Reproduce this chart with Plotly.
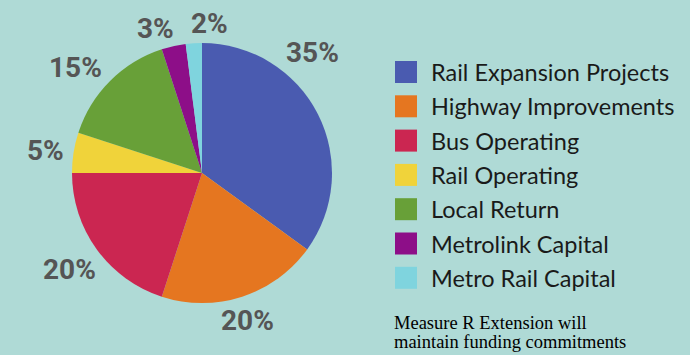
import plotly.graph_objects as go

categories = ["Rail Expansion Projects", "Highway Improvements", "Bus Operating",
              "Rail Operating", "Local Return", "Metrolink Capital", "Metro Rail Capital"]
values = [35, 20, 20, 5, 15, 3, 2]
colors = ["#4a5bb0", "#e57620", "#cb2651", "#f0d33a", "#68a038", "#8d0e88", "#7fd4de"]
# label centre positions in pixels (x, y from top)
label_pos = [(312, 52), (247, 320), (69, 269), (45, 150), (75, 68), (155, 28), (209, 23)]
note_lines = ["Measure R Extension will", "maintain funding commitments"]

W, H = 690, 355
BG = "#afdad6"

def px(x):
    return x / W

def py(y):
    return 1 - y / H

cx, cy, r = 202, 173, 130

fig = go.Figure(go.Pie(
    labels=categories, values=values, sort=False, direction="clockwise", rotation=0,
    marker=dict(colors=colors, line=dict(width=0)),
    textinfo="none", hoverinfo="label+percent", showlegend=False,
    domain=dict(x=[px(cx - r), px(cx + r)], y=[py(cy + r), py(cy - r)]),
))

annotations = []
for v, (lx, ly) in zip(values, label_pos):
    annotations.append(dict(
        x=px(lx), y=py(ly), xref="paper", yref="paper", text=f"{v}%", showarrow=False,
        xanchor="center", yanchor="middle",
        font=dict(family="Roboto", size=28, color="#555555", weight="bold"),
    ))

shapes = []
sq_x0, sq_size, row0, step = 395, 22, 72, 34.3
for i, (c, col) in enumerate(zip(categories, colors)):
    yc = row0 + i * step
    shapes.append(dict(type="rect", xref="paper", yref="paper",
                       x0=px(sq_x0), x1=px(sq_x0 + sq_size),
                       y0=py(yc + sq_size / 2), y1=py(yc - sq_size / 2),
                       fillcolor=col, line=dict(width=0)))
    annotations.append(dict(
        x=px(429), y=py(yc), xref="paper", yref="paper", text=c, showarrow=False,
        xanchor="left", yanchor="middle",
        font=dict(family="Lato", size=23.5, color="#1a1a1a"),
    ))

for i, line in enumerate(note_lines):
    annotations.append(dict(
        x=px(392), y=py(323 + i * 19), xref="paper", yref="paper", text=line, showarrow=False,
        xanchor="left", yanchor="middle", align="left",
        font=dict(family="Liberation Serif", size=18.5, color="#000000"),
    ))

fig.update_layout(
    width=W, height=H, margin=dict(l=0, r=0, t=0, b=0),
    paper_bgcolor=BG, plot_bgcolor=BG,
    annotations=annotations, shapes=shapes,
)

fig.write_html("out.html", config={"displayModeBar": False},
               post_script="document.body.style.margin='0';document.body.style.overflow='hidden';")
